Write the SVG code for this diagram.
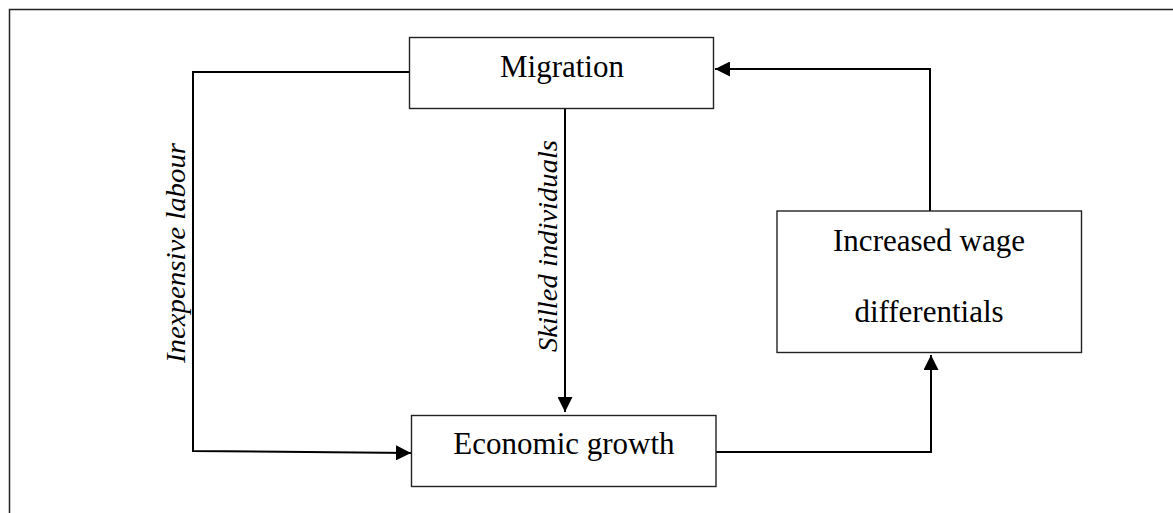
<svg xmlns="http://www.w3.org/2000/svg" width="1173" height="513" viewBox="0 0 1173 513">
  <style>
    .box { fill: #ffffff; stroke: #222222; stroke-width: 1.4; }
    .lbl { font-family: "Liberation Serif", "Times New Roman", serif; font-size: 31px; fill: #000000; text-anchor: middle; }
    .edge { fill: none; stroke: #000000; stroke-width: 2; }
    .elbl { font-family: "Liberation Serif", "Times New Roman", serif; font-size: 28px; font-style: italic; fill: #000000; text-anchor: middle; }
    .frame { fill: none; stroke: #222222; stroke-width: 1.5; }
  </style>
  <defs>
    <marker id="arrow" viewBox="0 0 15 15" refX="15" refY="7.5" markerWidth="15" markerHeight="15" markerUnits="userSpaceOnUse" orient="auto">
      <path d="M0,0 L15,7.5 L0,15 Z" fill="#000000"/>
    </marker>
  </defs>
  <rect width="1173" height="513" fill="#ffffff"/>
  <path class="frame" d="M9.5,513 L9.5,9.5 L1173,9.5"/>

  <g id="connectors">
    <path class="edge" d="M409,72 L193,72 L193,451 L411,453" marker-end="url(#arrow)"/>
    <path class="edge" d="M565,109 L565,412" marker-end="url(#arrow)"/>
    <path class="edge" d="M716,452 L931,452 L931,355" marker-end="url(#arrow)"/>
    <path class="edge" d="M930,211 L930,69 L715,69" marker-end="url(#arrow)"/>
    <text class="elbl" transform="translate(185,253) rotate(-90)" textLength="220" lengthAdjust="spacingAndGlyphs">Inexpensive labour</text>
    <text class="elbl" transform="translate(557,246) rotate(-90)" textLength="212" lengthAdjust="spacingAndGlyphs">Skilled individuals</text>
  </g>

  <g id="migration">
    <rect class="box" x="409.5" y="37.5" width="304" height="71"/>
    <text class="lbl" x="562" y="77">Migration</text>
  </g>

  <g id="economic-growth">
    <rect class="box" x="411.5" y="415.5" width="304.5" height="71"/>
    <text class="lbl" x="564" y="454">Economic growth</text>
  </g>

  <g id="wage-differentials">
    <rect class="box" x="777" y="211" width="304.5" height="141.5"/>
    <text class="lbl" x="929" y="251">Increased wage</text>
    <text class="lbl" x="929" y="322">differentials</text>
  </g>
</svg>
